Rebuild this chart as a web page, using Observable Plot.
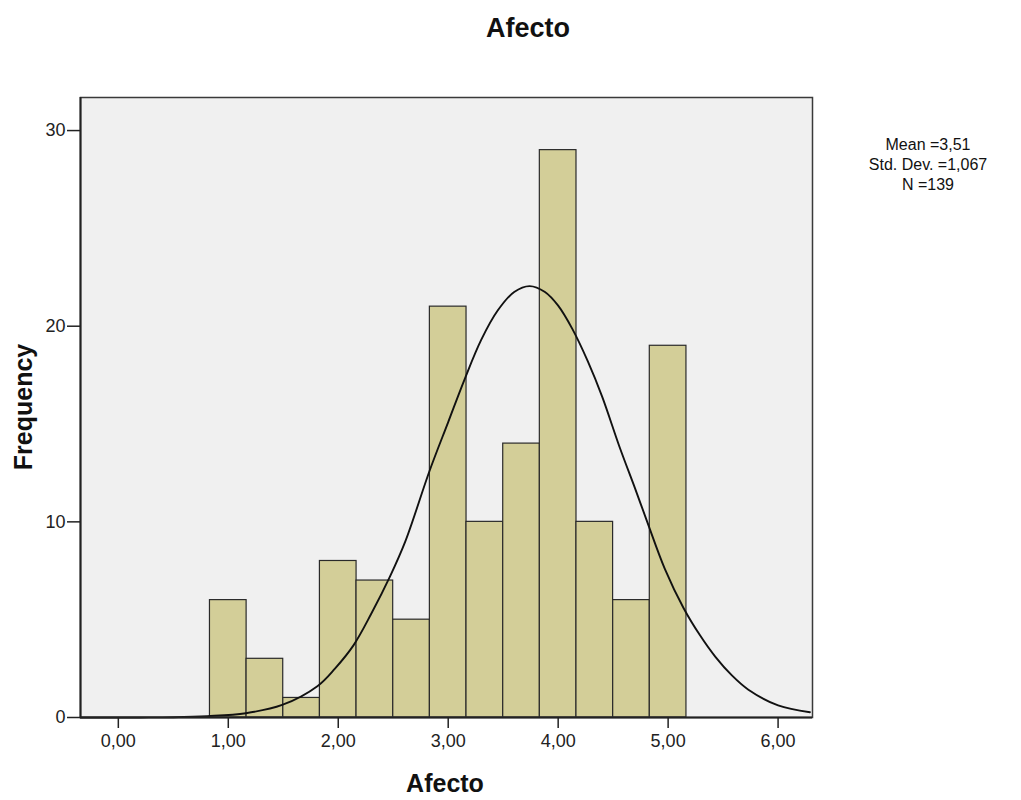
<!DOCTYPE html>
<html>
<head>
<meta charset="utf-8">
<script src="https://cdn.jsdelivr.net/npm/d3@7"></script>
<script src="https://cdn.jsdelivr.net/npm/@observablehq/plot@0.6"></script>
<style>
  html, body { margin: 0; padding: 0; background: #fff; }
  #chart { position: relative; width: 1021px; height: 800px; }
  svg { font-family: "Liberation Sans", Arial, sans-serif; }
</style>
</head>
<body>
<div id="chart"></div>
<script>
// ---- data ----
const titleText = "Afecto";
const xLabel = "Afecto";
const yLabel = "Frequency";
const statsLines = ["Mean =3,51", "Std. Dev. =1,067", "N =139"];

const binCenters = [1.0, 1.333, 1.667, 2.0, 2.333, 2.667, 3.0, 3.333, 3.667, 4.0, 4.333, 4.667, 5.0];
const binCounts  = [6, 3, 1, 8, 7, 5, 21, 10, 14, 29, 10, 6, 19];
const binWidth = 1 / 3;

// normal curve, points
const curveX = [-0.344, 0.2, 0.5, 0.81, 1.16, 1.49, 1.81, 1.97, 2.14, 2.30, 2.47, 2.61, 2.83, 3.0, 3.15, 3.30, 3.45, 3.60, 3.74, 3.88, 4.0, 4.13, 4.27, 4.40, 4.56, 4.70, 4.81, 4.97, 5.14, 5.29, 5.43, 5.58, 5.73, 6.0, 6.29];
const curveY = [0, 0.003, 0.015, 0.07, 0.22, 0.64, 1.6, 2.5, 3.7, 5.3, 7.2, 9.0, 12.6, 15.1, 17.3, 19.3, 20.8, 21.75, 22.05, 21.75, 21.05, 19.85, 18.2, 16.4, 13.8, 11.7, 10.0, 7.6, 5.6, 4.2, 3.1, 2.15, 1.42, 0.62, 0.27];

const xTicks = [0, 1, 2, 3, 4, 5, 6];
const yTicks = [0, 10, 20, 30];
const xDomain = [-0.344, 6.313];
const yDomain = [0, 31.69];

// ---- build tables ----
const bars = binCenters.map((c, i) => ({x1: c - binWidth / 2, x2: c + binWidth / 2, count: binCounts[i]}));
const curve = curveX.map((x, i) => ({x, y: curveY[i]}));

const W = 1021, H = 800;
const mLeft = 80, mRight = 209, mTop = 97, mBottom = 83;

const fmt = d => d.toFixed(2).replace(".", ",");

const plot = Plot.plot({
  width: W,
  height: H,
  marginLeft: mLeft,
  marginRight: mRight,
  marginTop: mTop,
  marginBottom: mBottom,
  style: {fontFamily: '"Liberation Sans", Arial, sans-serif', background: "#fff", color: "#222"},
  x: {domain: xDomain},
  y: {domain: yDomain},
  marks: [
    Plot.frame({fill: "#f0f0f0", stroke: "none"}),
    Plot.rectY(bars, {x1: "x1", x2: "x2", y: "count", fill: "#d3ce98", stroke: "#2a2a2a", strokeWidth: 1.2}),
    Plot.line(curve, {x: "x", y: "y", curve: "catmull-rom", stroke: "#111", strokeWidth: 1.9}),
    Plot.frame({stroke: "#3a3a3a", strokeWidth: 1.5}),
    Plot.ruleX([xDomain[0]], {stroke: "#222", strokeWidth: 2}),
    Plot.ruleY([0], {stroke: "#222", strokeWidth: 2}),
    Plot.axisY(yTicks, {tickSize: 13, tickPadding: 2, fontSize: 18, label: null, stroke: "#222", strokeWidth: 1.5, fill: "#222"}),
    Plot.axisX(xTicks, {tickSize: 11, tickPadding: 6, fontSize: 18, label: null, tickFormat: fmt, stroke: "#222", strokeWidth: 1.5, fill: "#222"})
  ]
});

document.getElementById("chart").appendChild(plot);

// ---- titles / annotations (non-data text) ----
const svg = d3.select(plot);
const plotCenterX = mLeft + (W - mLeft - mRight) / 2;
const plotCenterY = mTop + (H - mTop - mBottom) / 2;

svg.append("text")
  .attr("x", 528).attr("y", 37)
  .attr("text-anchor", "middle")
  .attr("font-size", 27).attr("font-weight", "bold").attr("fill", "#111")
  .text(titleText);

svg.append("text")
  .attr("x", plotCenterX - 1).attr("y", 792)
  .attr("text-anchor", "middle")
  .attr("font-size", 25).attr("font-weight", "bold").attr("fill", "#111")
  .text(xLabel);

svg.append("text")
  .attr("transform", `translate(32,${plotCenterY}) rotate(-90)`)
  .attr("text-anchor", "middle")
  .attr("font-size", 25).attr("font-weight", "bold").attr("fill", "#111")
  .text(yLabel);

statsLines.forEach((s, i) => {
  svg.append("text")
    .attr("x", 928).attr("y", 150 + i * 20)
    .attr("text-anchor", "middle")
    .attr("font-size", 16).attr("fill", "#111")
    .text(s);
});
</script>
</body>
</html>
